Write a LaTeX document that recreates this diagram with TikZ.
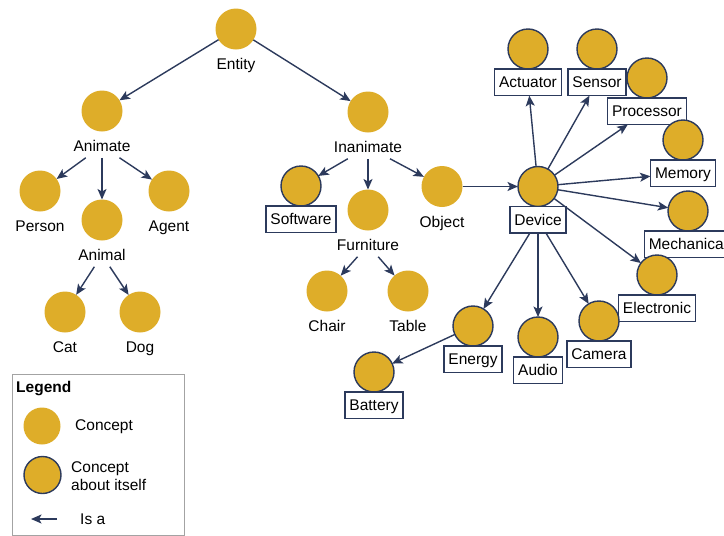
\documentclass[tikz,border=0pt]{standalone}
\usepackage{fontspec}
\setmainfont{Liberation Sans}
\usetikzlibrary{arrows.meta}

\definecolor{gold}{HTML}{DEAD29}
\definecolor{navy}{HTML}{2C3A5C}
\definecolor{framegray}{HTML}{A3A3A3}

\newcommand{\lblfont}{\fontsize{15.5}{18.5}\selectfont}

% plain concept: filled disc with its name underneath
\newcommand{\plainconcept}[4]{%
  \node[concept] (#1) at (#2,#3) {};
  \node[plainlbl] (#1L) at (#2,#3+35) {#4};}
% concept about itself: outlined disc with its name in a box
\newcommand{\selfconcept}[4]{%
  \node[selfdisc] (#1) at (#2,#3) {};
  \node[boxlbl, anchor=north] (#1L) at (#1.south) {#4};}

\begin{document}
\begin{tikzpicture}[x=1pt,y=-1pt,
  concept/.style={circle, fill=gold, minimum size=41pt, inner sep=0pt, outer sep=0pt},
  selfdisc/.style={concept, draw=navy, line width=1.4pt, minimum size=40pt},
  plainlbl/.style={font=\lblfont, inner xsep=2pt, inner ysep=6pt,
    text height=11.1pt, text depth=0pt},
  boxlbl/.style={draw=navy, line width=1.4pt, fill=white, font=\lblfont,
    inner xsep=4.5pt, inner ysep=0pt, text height=11.1pt, text depth=0pt,
    minimum height=26.6pt, outer sep=0pt},
  isa/.style={draw=navy, line width=1.4pt,
    -{Stealth[length=10.5pt,width=9pt,inset=2.5pt]}},
]
\useasboundingbox (0,0) rectangle (724,536);

% ---- living branch
\plainconcept{entity}{236}{29}{Entity}
\plainconcept{animate}{102}{111}{Animate}
\plainconcept{person}{40}{191}{Person}
\plainconcept{animal}{102}{220}{Animal}
\plainconcept{agent}{169}{191}{Agent}
\plainconcept{cat}{65}{312}{Cat}
\plainconcept{dog}{140}{312}{Dog}

% ---- non-living branch
\plainconcept{inanimate}{368}{112}{Inanimate}
\selfconcept{software}{301}{186}{Software}
\plainconcept{furniture}{368}{210}{Furniture}
\plainconcept{object}{442}{186.5}{Object}
\plainconcept{chair}{327}{291}{Chair}
\plainconcept{table}{408}{291}{Table}

% ---- devices
\selfconcept{actuator}{528}{49}{Actuator}
\selfconcept{sensor}{597}{49}{Sensor}
\selfconcept{processor}{647}{78}{Processor}
\selfconcept{memory}{683}{140}{Memory}
\selfconcept{device}{538}{186.5}{Device}
\selfconcept{mechanical}{688}{211}{Mechanical}
\selfconcept{electronic}{657}{275}{Electronic}
\selfconcept{camera}{599}{321}{Camera}
\selfconcept{audio}{538}{337}{Audio}
\selfconcept{energy}{473}{326}{Energy}
\selfconcept{battery}{374}{372}{Battery}

% ---- is-a links
\draw[isa] (entity) -- (animate);
\draw[isa] (entity) -- (inanimate);
\draw[isa] (animateL) -- (person);
\draw[isa] (animateL) -- (animal);
\draw[isa] (animateL) -- (agent);
\draw[isa] (animalL) -- (cat);
\draw[isa] (animalL) -- (dog);
\draw[isa] (inanimateL) -- (software);
\draw[isa] (inanimateL) -- (furniture);
\draw[isa] (inanimateL) -- (object);
\draw[isa] (furnitureL) -- (chair);
\draw[isa] (furnitureL) -- (table);
\draw[isa] (object) -- (device);
\draw[isa] (device) -- (actuatorL);
\draw[isa] (device) -- (sensorL);
\draw[isa] (device) -- (processorL);
\draw[isa] (device) -- (memoryL);
\draw[isa] (device) -- (mechanical);
\draw[isa] (device) -- (electronic);
\draw[isa] (deviceL) -- (energy);
\draw[isa] (deviceL) -- (audio);
\draw[isa] (deviceL) -- (camera);
\draw[isa] (energy) -- (battery);

% ---- legend
\node[draw=framegray, line width=0.8pt, anchor=north west,
  minimum width=172pt, minimum height=161pt, inner sep=0pt] (legend) at (12,374) {};
\node[font=\lblfont\bfseries, anchor=west, inner sep=0pt] (legendT) at (16,389) {Legend};
\node[concept, minimum size=37pt] (keyplain) at (42,426) {};
\node[font=\lblfont, anchor=west, inner sep=0pt] (keyplainT) at (75,427) {Concept};
\node[selfdisc, minimum size=37pt] (keyself) at (42.5,475) {};
\node[font=\lblfont, anchor=west, align=left, inner sep=0pt] (keyselfT) at (71,476)
  {Concept\\about itself};
\coordinate (keyarrowS) at (57,519);
\coordinate (keyarrowE) at (31,519);
\draw[isa] (keyarrowS) -- (keyarrowE);
\node[font=\lblfont, anchor=west, inner sep=0pt] (keyarrowT) at (80,519) {Is a};
\end{tikzpicture}
\end{document}
